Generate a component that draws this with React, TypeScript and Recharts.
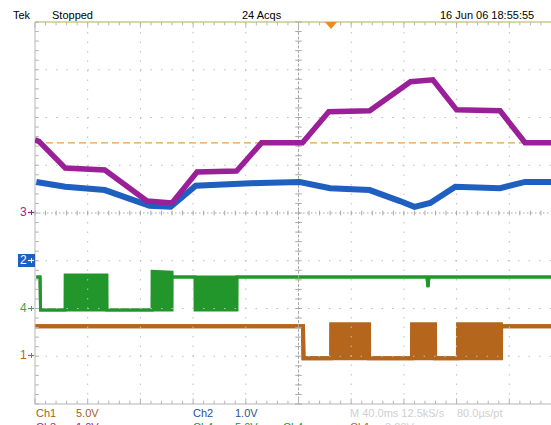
import React from 'react';
import { ComposedChart, Line, Area, XAxis, YAxis, ReferenceLine } from 'recharts';

// time in ms (40 ms/div, 10 div), level in divisions (-4..4)
const ch3Purple = [
  { t: 0, v: 1.53 }, { t: 3, v: 1.5 }, { t: 23, v: 0.94 }, { t: 53, v: 0.9 },
  { t: 85, v: 0.25 }, { t: 104, v: 0.21 }, { t: 123, v: 0.86 }, { t: 153, v: 0.88 },
  { t: 172, v: 1.47 }, { t: 203, v: 1.47 }, { t: 223, v: 2.12 }, { t: 254, v: 2.14 },
  { t: 285, v: 2.75 }, { t: 302, v: 2.79 }, { t: 320, v: 2.16 }, { t: 353, v: 2.14 },
  { t: 372, v: 1.47 }, { t: 400, v: 1.47 },
];

const ch2Blue = [
  { t: 1, v: 0.65 }, { t: 23, v: 0.55 }, { t: 53, v: 0.48 }, { t: 87, v: 0.15 },
  { t: 103, v: 0.13 }, { t: 122, v: 0.57 }, { t: 171, v: 0.63 }, { t: 201, v: 0.65 },
  { t: 224, v: 0.52 }, { t: 254, v: 0.48 }, { t: 277, v: 0.25 }, { t: 288, v: 0.13 },
  { t: 300, v: 0.21 }, { t: 319, v: 0.55 }, { t: 353, v: 0.52 }, { t: 372, v: 0.65 },
  { t: 400, v: 0.65 },
];

// lo/hi: burst regions fill between the two levels
const ch4Green = [
  { t: 1, lo: -1.34, hi: -1.34 }, { t: 3.8, lo: -1.34, hi: -1.34 },
  { t: 4.2, lo: -2.03, hi: -2.03 }, { t: 22.8, lo: -2.03, hi: -2.03 },
  { t: 22.9, lo: -2.03, hi: -1.3 }, { t: 54.6, lo: -2.03, hi: -1.3 },
  { t: 54.7, lo: -2.03, hi: -2.03 }, { t: 88.8, lo: -2.03, hi: -2.03 },
  { t: 88.9, lo: -2.03, hi: -1.22 }, { t: 104, lo: -2.03, hi: -1.24 },
  { t: 104.1, lo: -1.34, hi: -1.34 }, { t: 121.4, lo: -1.34, hi: -1.34 },
  { t: 121.5, lo: -2.03, hi: -1.34 }, { t: 153.3, lo: -2.03, hi: -1.34 },
  { t: 153.4, lo: -1.34, hi: -1.34 }, { t: 297.5, lo: -1.34, hi: -1.34 },
  { t: 298.3, lo: -1.55, hi: -1.55 }, { t: 299, lo: -1.34, hi: -1.34 },
  { t: 400, lo: -1.34, hi: -1.34 },
];

const ch1Brown = [
  { t: 0, lo: -2.37, hi: -2.37 }, { t: 203.4, lo: -2.37, hi: -2.37 },
  { t: 203.8, lo: -3.04, hi: -3.04 }, { t: 224.7, lo: -3.04, hi: -3.04 },
  { t: 224.8, lo: -3.04, hi: -2.33 }, { t: 253.5, lo: -3.04, hi: -2.33 },
  { t: 253.6, lo: -3.04, hi: -3.04 }, { t: 286.1, lo: -3.04, hi: -3.04 },
  { t: 286.2, lo: -3.04, hi: -2.33 }, { t: 303.6, lo: -3.04, hi: -2.33 },
  { t: 303.7, lo: -3.04, hi: -3.04 }, { t: 321, lo: -3.04, hi: -3.04 },
  { t: 321.1, lo: -3.04, hi: -2.33 }, { t: 353.7, lo: -3.04, hi: -2.33 },
  { t: 353.8, lo: -2.37, hi: -2.37 }, { t: 400, lo: -2.37, hi: -2.37 },
];

const triggerLevel = 1.47;
const xMajor = [40, 80, 120, 160, 240, 280, 320, 360, 400];
const yMajor = [-3, -2, -1, 1, 2, 3];
const xMinor = Array.from({ length: 51 }, (_, i) => i * 8);
const yMinor = Array.from({ length: 41 }, (_, i) => -4 + i * 0.2);

const PURPLE = '#9b1f98';
const BLUE = '#1f5fbf';
const GREEN = '#22962a';
const BROWN = '#b3661c';
const GRID = '#bdbdbd';

const txt = (left: number, top: number, color: string, s: string, extra: React.CSSProperties = {}) => (
  <div style={{ position: 'absolute', left, top, color, fontSize: 11, lineHeight: '13px', whiteSpace: 'nowrap', ...extra }}>{s}</div>
);

const Marker = ({ top, color, label, boxed }: { top: number; color: string; label: string; boxed?: boolean }) => (
  <div style={{ position: 'absolute', left: boxed ? 18 : 20, top: top - 7, height: 13, width: boxed ? 17 : 15, display: 'flex', alignItems: 'center', background: boxed ? color : 'transparent', color: boxed ? '#fff' : color, fontSize: 12, lineHeight: '13px' }}>
    <span style={{ paddingLeft: boxed ? 2 : 0 }}>{label}</span>
    <svg width="7" height="7" style={{ marginLeft: 1 }}>
      <line x1="0" y1="3.5" x2="6" y2="3.5" stroke={boxed ? '#fff' : color} strokeWidth="1.2" />
      <line x1="3.5" y1="1" x2="3.5" y2="6" stroke={boxed ? '#fff' : color} strokeWidth="1" />
    </svg>
  </div>
);

export default function App() {
  return (
    <div style={{ position: 'absolute', left: 0, top: 0, width: 551, height: 425, overflow: 'hidden', background: '#fff', fontFamily: '"Liberation Sans", Arial, sans-serif' }}>
      <ComposedChart width={580} height={425} margin={{ top: 22, right: 18, bottom: 21, left: 35 }}>
        <XAxis dataKey="t" type="number" domain={[0, 400]} hide allowDataOverflow />
        <YAxis type="number" domain={[-4, 4]} hide allowDataOverflow />

        {xMajor.map((x) => (
          <ReferenceLine key={'gx' + x} x={x} stroke={GRID} strokeDasharray="1.5 8" />
        ))}
        {yMajor.map((y) => (
          <ReferenceLine key={'gy' + y} y={y} stroke={GRID} strokeDasharray="1.5 9" />
        ))}
        <ReferenceLine x={200} stroke="#a8a8a8" strokeDasharray="3 1.5" />
        <ReferenceLine y={0} stroke="#a8a8a8" strokeDasharray="1.5 2.5" />
        <ReferenceLine x={0} stroke="#b5b5b5" />
        <ReferenceLine y={4} stroke="#c9cb8e" strokeWidth={1.5} />
        <ReferenceLine y={-4} stroke="#b5b5b5" />

        {xMinor.map((x) => (
          <ReferenceLine key={'tt' + x} segment={[{ x, y: 4 }, { x, y: x % 40 === 0 ? 3.88 : 3.93 }]} stroke="#b5b5b5" />
        ))}
        {xMinor.map((x) => (
          <ReferenceLine key={'tb' + x} segment={[{ x, y: -4 }, { x, y: x % 40 === 0 ? -3.88 : -3.93 }]} stroke="#b5b5b5" />
        ))}
        {xMinor.map((x) => (
          <ReferenceLine key={'tc' + x} segment={[{ x, y: -0.05 }, { x, y: 0.05 }]} stroke="#a8a8a8" />
        ))}
        {yMinor.map((y) => (
          <ReferenceLine key={'tl' + y} segment={[{ x: 0, y }, { x: 3, y }]} stroke="#b5b5b5" />
        ))}
        {yMinor.map((y) => (
          <ReferenceLine key={'tv' + y} segment={[{ x: 197.5, y }, { x: 202.5, y }]} stroke="#a8a8a8" />
        ))}

        <ReferenceLine y={triggerLevel} stroke="#e2a04a" strokeWidth={1.2} strokeDasharray="7 4" />

        <Area data={ch1Brown} dataKey={(d: any) => [d.lo, d.hi]} type="linear" stroke={BROWN} strokeWidth={4} fill={BROWN} fillOpacity={1} isAnimationActive={false} dot={false} activeDot={false} />
        <Area data={ch4Green} dataKey={(d: any) => [d.lo, d.hi]} type="linear" stroke={GREEN} strokeWidth={3} fill={GREEN} fillOpacity={1} isAnimationActive={false} dot={false} activeDot={false} />
        <Line data={ch2Blue} dataKey="v" type="linear" stroke={BLUE} strokeWidth={6} dot={false} activeDot={false} isAnimationActive={false} />
        <Line data={ch3Purple} dataKey="v" type="linear" stroke={PURPLE} strokeWidth={5.5} dot={false} activeDot={false} isAnimationActive={false} />
      </ComposedChart>

      {txt(13, 9, '#000', 'Tek')}
      {txt(52, 9, '#000', 'Stopped')}
      {txt(242, 9, '#000', '24 Acqs')}
      {txt(440, 9, '#000', '16 Jun 06 18:55:55')}
      <div style={{ position: 'absolute', left: 325, top: 22, width: 0, height: 0, borderLeft: '6px solid transparent', borderRight: '6px solid transparent', borderTop: '7px solid #f08a1c' }} />

      <Marker top={213} color={PURPLE} label="3" />
      <Marker top={261} color={BLUE} label="2" boxed />
      <Marker top={309} color="#4aa04a" label="4" />
      <Marker top={356} color={BROWN} label="1" />

      {txt(36, 407, '#a0621e', 'Ch1')}
      {txt(76, 407, '#a0621e', '5.0V')}
      {txt(193, 407, '#2b4f8f', 'Ch2')}
      {txt(235, 407, '#2b4f8f', '1.0V')}
      {txt(350, 407, '#cfcfcf', 'M 40.0ms 12.5kS/s')}
      {txt(457, 407, '#cfcfcf', '80.0\u00b5s/pt')}
      {txt(36, 421, PURPLE, 'Ch3')}
      {txt(76, 421, PURPLE, '1.0V')}
      {txt(193, 421, GREEN, 'Ch4')}
      {txt(235, 421, GREEN, '5.0V')}
      {txt(283, 421, GREEN, 'Ch4')}
      {txt(350, 421, BROWN, 'Ch1')}
      {txt(385, 421, '#cfcfcf', '3.20V')}
    </div>
  );
}
